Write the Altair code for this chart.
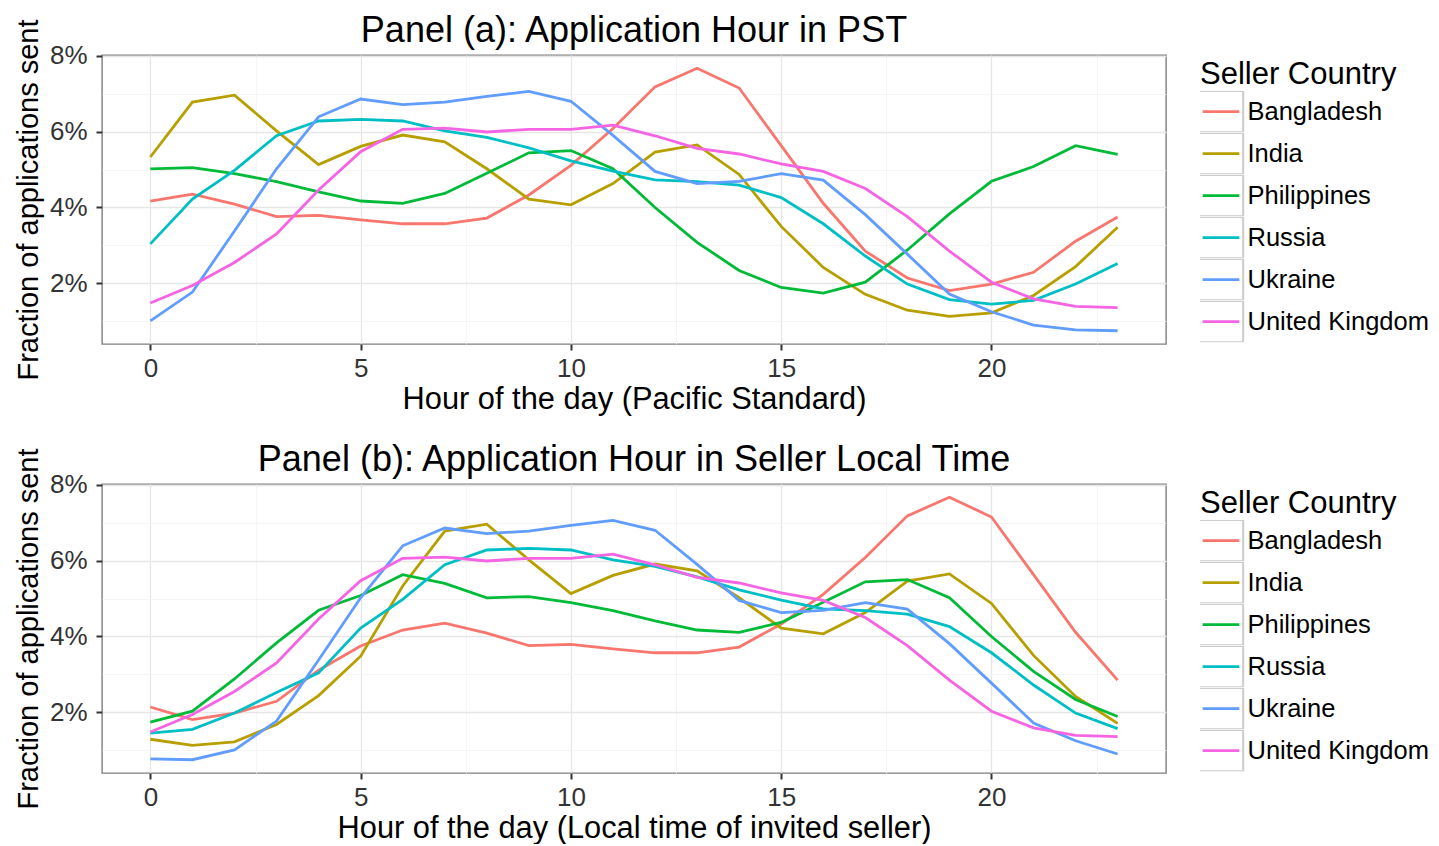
import altair as alt
import pandas as pd

FONT = "Liberation Sans"

hours = list(range(24))
countries = ["Bangladesh", "India", "Philippines", "Russia", "Ukraine", "United Kingdom"]
colors = ["#F8766D", "#B79F00", "#00BA38", "#00BFC4", "#619CFF", "#F564E3"]

# Panel (a): percent of applications sent, by hour of the day in PST
pst_bangladesh = [4.17, 4.35, 4.09, 3.76, 3.79, 3.67, 3.57, 3.57, 3.72, 4.33, 5.11, 6.08,
                  7.18, 7.67, 7.15, 5.63, 4.11, 2.85, 2.14, 1.81, 1.98, 2.29, 3.11, 3.75]
pst_india = [5.33, 6.78, 6.96, 6.02, 5.13, 5.61, 5.91, 5.73, 5.02, 4.22, 4.07, 4.63,
             5.46, 5.65, 4.87, 3.50, 2.42, 1.71, 1.29, 1.13, 1.22, 1.68, 2.44, 3.48]
pst_philippines = [5.02, 5.05, 4.89, 4.68, 4.41, 4.17, 4.11, 4.37, 4.90, 5.44, 5.50, 5.02,
                   4.00, 3.08, 2.34, 1.89, 1.74, 2.03, 2.88, 3.83, 4.69, 5.08, 5.63, 5.40]
pst_russia = [3.04, 4.22, 4.98, 5.89, 6.28, 6.32, 6.28, 6.02, 5.85, 5.57, 5.23, 4.96,
              4.73, 4.68, 4.59, 4.26, 3.57, 2.72, 1.98, 1.57, 1.45, 1.55, 1.98, 2.52]
pst_ukraine = [1.01, 1.77, 3.38, 5.02, 6.39, 6.86, 6.71, 6.78, 6.93, 7.06, 6.80, 5.90,
               4.95, 4.63, 4.69, 4.89, 4.72, 3.81, 2.77, 1.72, 1.25, 0.90, 0.77, 0.75]
pst_uk = [1.48, 1.94, 2.55, 3.30, 4.46, 5.47, 6.06, 6.09, 5.99, 6.06, 6.06, 6.17,
          5.89, 5.56, 5.41, 5.15, 4.95, 4.50, 3.76, 2.85, 2.03, 1.59, 1.39, 1.36]

# Panel (b): percent of applications sent, by hour of the day in the seller's local time
local_bangladesh = [2.14, 1.81, 1.98, 2.29, 3.11, 3.75, 4.17, 4.35, 4.09, 3.76, 3.79, 3.67,
                    3.57, 3.57, 3.72, 4.33, 5.11, 6.08, 7.18, 7.67, 7.15, 5.63, 4.11, 2.85]
local_india = [1.29, 1.13, 1.22, 1.68, 2.44, 3.48, 5.33, 6.78, 6.96, 6.02, 5.13, 5.61,
               5.91, 5.73, 5.02, 4.22, 4.07, 4.63, 5.46, 5.65, 4.87, 3.50, 2.42, 1.71]
local_philippines = [1.74, 2.03, 2.88, 3.83, 4.69, 5.08, 5.63, 5.40, 5.02, 5.05, 4.89, 4.68,
                     4.41, 4.17, 4.11, 4.37, 4.90, 5.44, 5.50, 5.02, 4.00, 3.08, 2.34, 1.89]
local_russia = [1.45, 1.55, 1.98, 2.52, 3.04, 4.22, 4.98, 5.89, 6.28, 6.32, 6.28, 6.02,
                5.85, 5.57, 5.23, 4.96, 4.73, 4.68, 4.59, 4.26, 3.57, 2.72, 1.98, 1.57]
local_ukraine = [0.77, 0.75, 1.01, 1.77, 3.38, 5.02, 6.39, 6.86, 6.71, 6.78, 6.93, 7.06,
                 6.80, 5.90, 4.95, 4.63, 4.69, 4.89, 4.72, 3.81, 2.77, 1.72, 1.25, 0.90]
local_uk = [1.48, 1.94, 2.55, 3.30, 4.46, 5.47, 6.06, 6.09, 5.99, 6.06, 6.06, 6.17,
            5.89, 5.56, 5.41, 5.15, 4.95, 4.50, 3.76, 2.85, 2.03, 1.59, 1.39, 1.36]

x_ticks = [0, 2.5, 5, 7.5, 10, 12.5, 15, 17.5, 20, 22.5]
y_ticks = [1, 2, 3, 4, 5, 6, 7, 8]
x_domain = [-1.15, 24.15]
y_domain = [0.40, 8.02]

panel_a = dict(zip(countries, [pst_bangladesh, pst_india, pst_philippines,
                               pst_russia, pst_ukraine, pst_uk]))
panel_b = dict(zip(countries, [local_bangladesh, local_india, local_philippines,
                               local_russia, local_ukraine, local_uk]))

W, H = 1064, 289
# custom symbol paths live in a [-1, 1] box scaled by sqrt(size)/2
LINE_PATH = "M-0.941,0H0.941"
BOX_PATH = "M-1.108,-1.033H1.108V1.033H-1.108Z"

MAJOR_X = "datum.value % 5 === 0"
MAJOR_Y = "datum.value % 2 === 0"


def grid_props(test):
    return dict(
        grid=True,
        gridColor={"condition": {"test": test, "value": "#e6e6e6"}, "value": "#f3f3f3"},
        gridWidth={"condition": {"test": test, "value": 1.3}, "value": 0.8},
        tickOpacity={"condition": {"test": test, "value": 1}, "value": 0},
    )


def make_panel(values, title, xtitle):
    rows = []
    for c in countries:
        for h, v in zip(hours, values[c]):
            rows.append({"hour": h, "pct": v, "country": c, "key": c})
    df = pd.DataFrame(rows)

    x_axis = alt.Axis(
        title=xtitle, values=x_ticks, labelExpr=f"{MAJOR_X} ? datum.label : ''",
        domain=False, tickSize=6, tickWidth=2, tickColor="#333333",
        labelFontSize=26, labelColor="#333333", labelPadding=5, labelFont=FONT,
        labelFlush=False, labelOverlap=False,
        titleFontSize=30.8, titleFont=FONT, titleFontWeight="normal", titleColor="black",
        titlePadding=3, **grid_props(MAJOR_X),
    )
    y_axis = alt.Axis(
        title="Fraction of applications sent", values=y_ticks,
        labelExpr=f"{MAJOR_Y} ? datum.value + '%' : ''",
        domain=False, tickSize=6, tickWidth=2, tickColor="#333333",
        labelFontSize=26, labelColor="#333333", labelPadding=9, labelFont=FONT,
        labelOverlap=False,
        titleFontSize=29, titleFont=FONT, titleFontWeight="normal", titleColor="black",
        titlePadding=6, **grid_props(MAJOR_Y),
    )

    common = dict(
        orient="none", legendX=1098, legendY=5, clipHeight=41.33, rowPadding=0,
        padding=0, symbolOffset=0, labelOffset=5.5, labelFontSize=25.5, labelFont=FONT,
        labelColor="black", labelLimit=400, title="Seller Country", titleFontSize=31,
        titleFont=FONT, titleFontWeight="normal", titleColor="black", titlePadding=0,
        titleLimit=400,
    )
    line_legend = alt.Legend(symbolType=LINE_PATH, symbolSize=1521,
                             symbolStrokeWidth=2.6, **common)
    box_legend = alt.Legend(symbolSize=1600, symbolStrokeWidth=2,
                            symbolStrokeColor="#cccccc", symbolFillColor="transparent",
                            labelOpacity=0, titleOpacity=0, **common)

    base = alt.Chart(df)
    x = alt.X("hour:Q", scale=alt.Scale(domain=x_domain, nice=False, zero=False), axis=x_axis)
    y = alt.Y("pct:Q", scale=alt.Scale(domain=y_domain, nice=False, zero=False), axis=y_axis)

    lines = base.mark_line(strokeWidth=2.8).encode(
        x=x, y=y,
        color=alt.Color("country:N", scale=alt.Scale(domain=countries, range=colors),
                        legend=line_legend),
        detail="country:N",
    )
    boxes = base.mark_point(size=0, color="#cccccc", opacity=1, filled=False).encode(
        x="hour:Q", y="pct:Q",
        shape=alt.Shape("key:N", scale=alt.Scale(range=[BOX_PATH] * 6), legend=box_legend),
    )
    return alt.layer(lines, boxes).properties(
        width=W, height=H,
        title=alt.TitleParams(text=title, fontSize=36, font=FONT, fontWeight="normal",
                              color="black", anchor="middle", frame="group", offset=-31),
    )


pa = make_panel(panel_a, "Panel (a): Application Hour in PST", "Hour of the day (Pacific Standard)")
pb = make_panel(panel_b, "Panel (b): Application Hour in Seller Local Time",
                "Hour of the day (Local time of invited seller)")

chart = (
    alt.vconcat(pa, pb, spacing=26)
    .resolve_scale(color="independent", shape="independent")
    .properties(padding={"left": 5, "top": 4, "right": 0, "bottom": 0}, background="white")
    .configure(font=FONT)
    .configure_view(stroke="#7f7f7f", strokeWidth=1.4)
)

chart.save("out.html", embed_options={"renderer": "svg", "actions": False})
